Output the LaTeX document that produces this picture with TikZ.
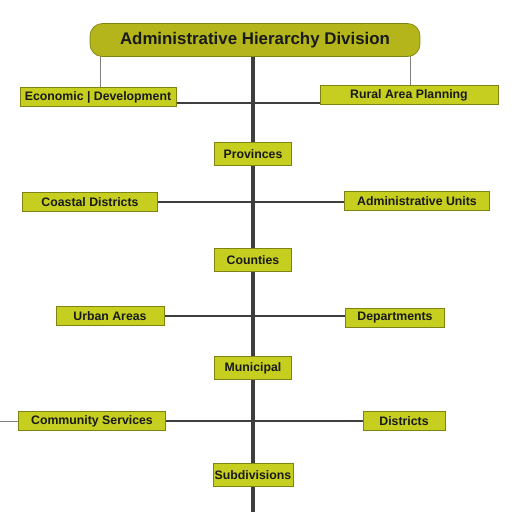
\documentclass[tikz,border=0pt]{standalone}
\usepackage{fontspec}
\setmainfont{Liberation Sans}
\usepackage{xcolor}
\usepackage{tikz}
\usetikzlibrary{positioning,backgrounds}

\definecolor{headfill}{HTML}{B3B51B}
\definecolor{boxfill}{HTML}{C6CF1F}
\definecolor{boxedge}{HTML}{7E8412}
\definecolor{linegray}{HTML}{3E3E3E}

\tikzset{
  titlebox/.style={draw=boxedge, fill=headfill, rounded corners=7pt, minimum width=6.6cm, minimum height=0.66cm, font=\bfseries\fontsize{9.6}{11}\selectfont, text=black!90},
  sidebox/.style={draw=boxedge, fill=boxfill, minimum height=0.38cm, inner sep=1pt, font=\bfseries\fontsize{7}{8.5}\selectfont, text=black!90},
  midbox/.style={draw=boxedge, fill=boxfill, minimum width=1.54cm, minimum height=0.46cm, inner sep=1pt, font=\bfseries\fontsize{7}{8.5}\selectfont, text=black!90},
  spine/.style={draw=linegray, line width=2.2pt},
  link/.style={draw=linegray, line width=0.9pt},
  drop/.style={draw=gray, line width=0.5pt}
}

\begin{document}
\begin{tikzpicture}[x=0.02cm, y=-0.02cm]
\useasboundingbox (0,0) rectangle (512,512);

\coordinate (spineend) at (253,512);
\coordinate (dropL) at (100,56);
\coordinate (dropR) at (410,56);
\coordinate (edgeL) at (0,421);

\node[titlebox] (title) at (255,40) {Administrative Hierarchy Division};

\node[sidebox, minimum width=3.12cm] (rowAL) at (98,97) {Economic | Development};
\node[sidebox, minimum width=3.56cm] (rowAR) at (409,95) {Rural Area Planning};
\node[midbox] (midA) at (253,154) {Provinces};

\node[sidebox, minimum width=2.7cm] (rowBL) at (90,202) {Coastal Districts};
\node[sidebox, minimum width=2.9cm] (rowBR) at (417,201) {Administrative Units};
\node[midbox] (midB) at (253,260) {Counties};

\node[sidebox, minimum width=2.16cm] (rowCL) at (110,316) {Urban Areas};
\node[sidebox, minimum width=1.98cm] (rowCR) at (395,318) {Departments};
\node[midbox] (midC) at (253,368) {Municipal};

\node[sidebox, minimum width=2.94cm] (rowDL) at (92,421) {Community Services};
\node[sidebox, minimum width=1.64cm] (rowDR) at (404,421) {Districts};
\node[midbox] (midD) at (253,475) {Subdivisions};

% connectors behind the boxes
\begin{scope}[on background layer]
\draw[drop] (dropL) -- (dropL |- rowAL.north);
\draw[drop] (dropR) -- (dropR |- rowAR.north);
\draw[link] (rowAL.east) ++(0,6) -- (rowAR.west |- 0,103);
\draw[link] (rowBL.east) -- (rowBL.east -| rowBR.west);
\draw[link] (rowCL.east) -- (rowCL.east -| rowCR.west);
\draw[link] (rowDL.east) -- (rowDL.east -| rowDR.west);
\draw[drop] (edgeL) -- (rowDL.west);
\draw[spine] (title.south -| spineend) -- (spineend);
\end{scope}
\end{tikzpicture}
\end{document}
